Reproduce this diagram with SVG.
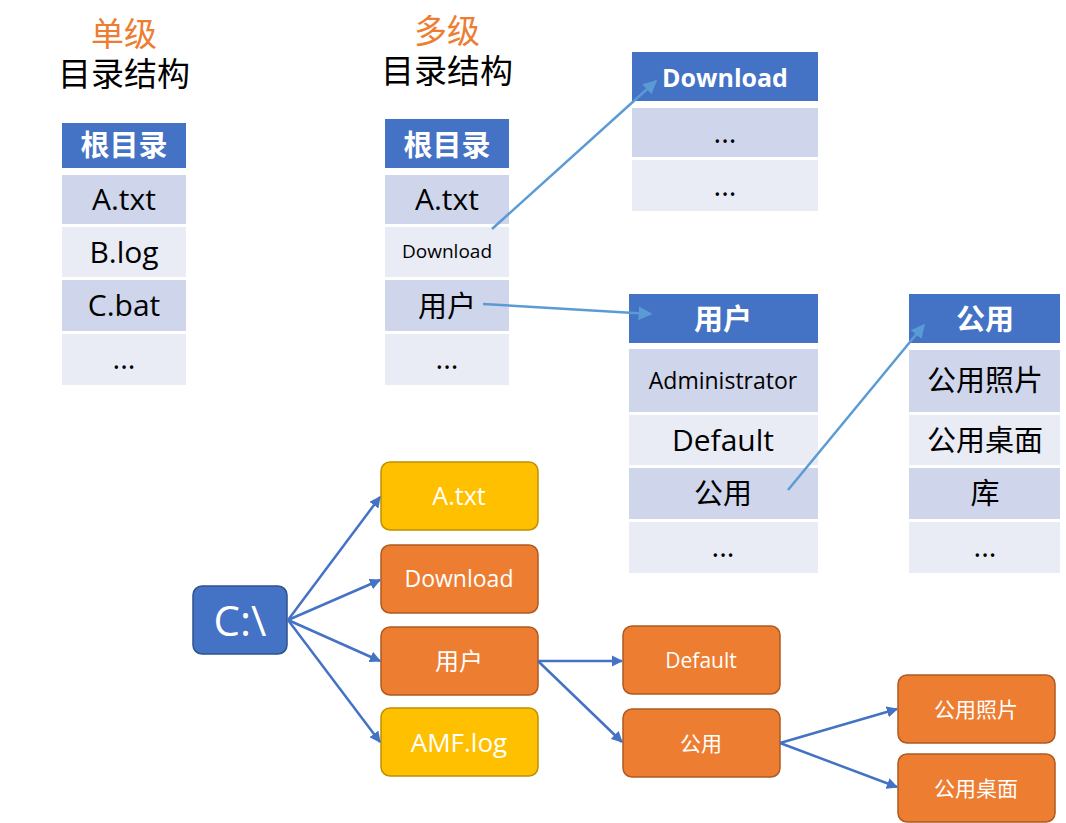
<svg xmlns="http://www.w3.org/2000/svg" width="1066" height="823" viewBox="0 0 1066 823">
<defs>
<style>
text{font-family:"Open Sans","Noto Sans CJK SC",sans-serif;text-anchor:middle;}
.title{font-size:33px;fill:#000;font-family:"Liberation Sans","Noto Sans CJK SC",sans-serif;}
.orange{fill:#ED7D31;}
.hd{fill:#4472C4;}
.r1{fill:#CFD5EA;}
.r2{fill:#E9EBF5;}
.ht{fill:#fff;font-weight:bold;font-size:29px;}
.ct{fill:#000;font-size:29px;}
.blue{fill:#4472C4;stroke:#2F528F;stroke-width:1.5;}
.yel{fill:#FFC000;stroke:#BF9000;stroke-width:1.5;}
.org{fill:#ED7D31;stroke:#AE5A21;stroke-width:1.5;}
.bt{fill:#fff;font-size:24px;}
.la{stroke:#5B9BD5;stroke-width:2.5;fill:none;}
.da{stroke:#4472C4;stroke-width:2.5;fill:none;}
</style>
<marker id="ml" viewBox="0 0 10 10" refX="9" refY="5" markerWidth="5.5" markerHeight="5.5" orient="auto" markerUnits="strokeWidth"><path d="M0,0L10,5L0,10z" fill="#5B9BD5"/></marker>
<marker id="md" viewBox="0 0 10 10" refX="9" refY="5" markerWidth="4.5" markerHeight="4.5" orient="auto" markerUnits="strokeWidth"><path d="M0,0L10,5L0,10z" fill="#4472C4"/></marker>
</defs>
<rect width="1066" height="823" fill="#fff"/>

<g id="title-single">
<text class="title orange" x="124" y="46">单级</text>
<text class="title" x="124" y="86">目录结构</text>
</g>
<g id="title-multi">
<text class="title orange" x="447" y="43">多级</text>
<text class="title" x="447" y="83">目录结构</text>
</g>

<g id="table-single">
<rect class="hd" x="62" y="123" width="124" height="45"/>
<text class="ht" x="124" y="156">根目录</text>
<rect class="r1" x="62" y="175" width="124" height="49"/>
<text class="ct" x="124" y="210" style="font-size:30px">A.txt</text>
<rect class="r2" x="62" y="227" width="124" height="50"/>
<text class="ct" x="124" y="263" style="font-size:30px">B.log</text>
<rect class="r1" x="62" y="280" width="124" height="51"/>
<text class="ct" x="124" y="316" style="font-size:30px">C.bat</text>
<rect class="r2" x="62" y="334" width="124" height="51"/>
<text class="ct" x="124" y="369">...</text>
</g>

<g id="table-root">
<rect class="hd" x="385" y="119" width="124" height="49"/>
<text class="ht" x="447" y="156">根目录</text>
<rect class="r1" x="385" y="175" width="124" height="49"/>
<text class="ct" x="447" y="210" style="font-size:30px">A.txt</text>
<rect class="r2" x="385" y="227" width="124" height="50"/>
<text class="ct" x="447" y="258" style="font-size:19px">Download</text>
<rect class="r1" x="385" y="280" width="124" height="51"/>
<text class="ct" x="447" y="317">用户</text>
<rect class="r2" x="385" y="334" width="124" height="51"/>
<text class="ct" x="447" y="369">...</text>
</g>

<g id="table-download">
<rect class="hd" x="632" y="52" width="186" height="49"/>
<text class="ht" x="725" y="87" style="font-size:25px">Download</text>
<rect class="r1" x="632" y="108" width="186" height="49"/>
<text class="ct" x="725" y="143">...</text>
<rect class="r2" x="632" y="160" width="186" height="51"/>
<text class="ct" x="725" y="196">...</text>
</g>

<g id="table-user">
<rect class="hd" x="629" y="294" width="189" height="49"/>
<text class="ht" x="723" y="330">用户</text>
<rect class="r1" x="629" y="349" width="189" height="63"/>
<text class="ct" x="723" y="389" style="font-size:23px">Administrator</text>
<rect class="r2" x="629" y="415" width="189" height="50"/>
<text class="ct" x="723" y="451" style="font-size:30px">Default</text>
<rect class="r1" x="629" y="468" width="189" height="51"/>
<text class="ct" x="723" y="504">公用</text>
<rect class="r2" x="629" y="522" width="189" height="51"/>
<text class="ct" x="723" y="557">...</text>
</g>

<g id="table-public">
<rect class="hd" x="909" y="294" width="151" height="49"/>
<text class="ht" x="985" y="330">公用</text>
<rect class="r1" x="909" y="350" width="151" height="62"/>
<text class="ct" x="985" y="391">公用照片</text>
<rect class="r2" x="909" y="415" width="151" height="50"/>
<text class="ct" x="985" y="451">公用桌面</text>
<rect class="r1" x="909" y="468" width="151" height="51"/>
<text class="ct" x="985" y="504">库</text>
<rect class="r2" x="909" y="522" width="151" height="51"/>
<text class="ct" x="985" y="557">...</text>
</g>

<g id="node-c">
<rect class="blue" x="193" y="586" width="94" height="68" rx="9"/>
<text class="bt" x="240" y="636" style="font-size:42px">C:\</text>
</g>
<g id="node-atxt">
<rect class="yel" x="381" y="462" width="157" height="68" rx="9"/>
<text class="bt" x="459" y="505" style="font-size:25px">A.txt</text>
</g>
<g id="node-download">
<rect class="org" x="381" y="545" width="157" height="68" rx="9"/>
<text class="bt" x="459" y="587" style="font-size:23px">Download</text>
</g>
<g id="node-user">
<rect class="org" x="381" y="627" width="157" height="68" rx="9"/>
<text class="bt" x="459" y="670">用户</text>
</g>
<g id="node-amf">
<rect class="yel" x="381" y="708" width="157" height="68" rx="9"/>
<text class="bt" x="459" y="752" style="font-size:26px">AMF.log</text>
</g>
<g id="node-default">
<rect class="org" x="623" y="626" width="157" height="68" rx="9"/>
<text class="bt" x="701" y="668" style="font-size:21px">Default</text>
</g>
<g id="node-public">
<rect class="org" x="623" y="709" width="157" height="68" rx="9"/>
<text class="bt" x="701" y="751" style="font-size:21px">公用</text>
</g>
<g id="node-photo">
<rect class="org" x="898" y="675" width="157" height="68" rx="9"/>
<text class="bt" x="976" y="717" style="font-size:21px">公用照片</text>
</g>
<g id="node-desktop">
<rect class="org" x="898" y="754" width="157" height="68" rx="9"/>
<text class="bt" x="976" y="796" style="font-size:21px">公用桌面</text>
</g>

<g id="connectors">
<line class="la" x1="492" y1="229" x2="656" y2="81" marker-end="url(#ml)"/>
<line class="la" x1="483" y1="304" x2="651" y2="314" marker-end="url(#ml)"/>
<line class="la" x1="788" y1="490" x2="924" y2="325" marker-end="url(#ml)"/>
<line class="da" x1="288" y1="620" x2="380" y2="497" marker-end="url(#md)"/>
<line class="da" x1="288" y1="620" x2="380" y2="580" marker-end="url(#md)"/>
<line class="da" x1="288" y1="620" x2="380" y2="661" marker-end="url(#md)"/>
<line class="da" x1="288" y1="620" x2="380" y2="742" marker-end="url(#md)"/>
<line class="da" x1="538" y1="661" x2="622" y2="661" marker-end="url(#md)"/>
<line class="da" x1="538" y1="661" x2="622" y2="742" marker-end="url(#md)"/>
<line class="da" x1="780" y1="743" x2="897" y2="709" marker-end="url(#md)"/>
<line class="da" x1="780" y1="743" x2="897" y2="787" marker-end="url(#md)"/>
</g>
</svg>
